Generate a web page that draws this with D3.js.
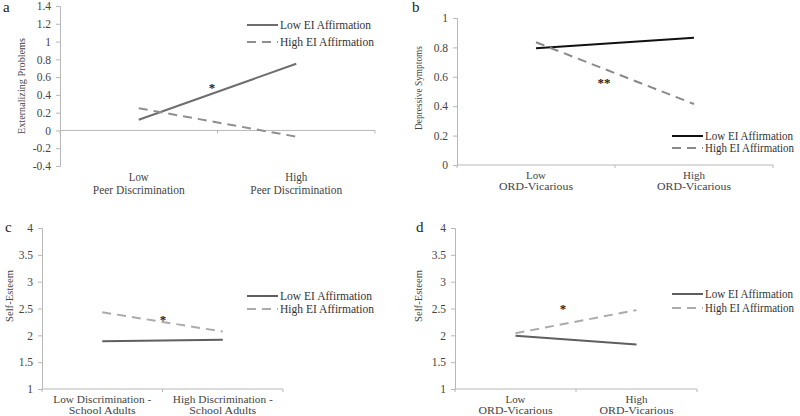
<!DOCTYPE html>
<html><head><meta charset="utf-8">
<script src="https://cdn.jsdelivr.net/npm/d3@7"></script>
<style>body{margin:0;background:#fff}svg{display:block}</style>
</head><body><svg id="c" width="800" height="416"></svg>
<script>
const FONT = '"Liberation Serif", "Tinos", "Times New Roman", serif';
const seriesNames = ["Low EI Affirmation", "High EI Affirmation"];
// Panel a
const catsA = ["Low|Peer Discrimination", "High|Peer Discrimination"];
const lowA = [0.12, 0.75];
const highA = [0.25, -0.07];
const ticksA = [-0.4, -0.2, 0, 0.2, 0.4, 0.6, 0.8, 1, 1.2, 1.4];
// Panel b
const catsB = ["Low|ORD-Vicarious", "High|ORD-Vicarious"];
const lowB = [0.795, 0.865];
const highB = [0.835, 0.415];
const ticksB = [0, 0.2, 0.4, 0.6, 0.8, 1];
// Panel c
const catsC = ["Low Discrimination -|School Adults", "High Discrimination -|School Adults"];
const lowC = [1.89, 1.92];
const highC = [2.43, 2.07];
const ticksC = [1, 1.5, 2, 2.5, 3, 3.5, 4];
// Panel d
const catsD = ["Low|ORD-Vicarious", "High|ORD-Vicarious"];
const lowD = [1.99, 1.83];
const highD = [2.04, 2.47];
const ticksD = [1, 1.5, 2, 2.5, 3, 3.5, 4];

const svg = d3.select("#c");
const labW = {"Low": 20, "High": 22, "Peer Discrimination": 92, "ORD-Vicarious": 74,
  "Low Discrimination -": 98, "High Discrimination -": 100, "School Adults": 67};

function txt(sel, size) {
  return sel.style("font-family", FONT).style("font-size", size + "px");
}

function panel(o) {
  const g = svg.append("g");
  const x = d3.scaleBand().domain(o.cats).range([o.x0, o.x1]);
  const y = d3.scaleLinear().domain([o.ticks[0], o.ticks[o.ticks.length-1]]).range([o.yb, o.yt]);
  const axisColor = "#b8b8b8";
  const ya = g.append("g").attr("transform", `translate(${o.x0},0)`)
    .call(d3.axisLeft(y).tickValues(o.ticks).tickSize(4).tickPadding(5).tickFormat(d => String(+d.toFixed(2))));
  ya.select(".domain").attr("stroke", axisColor);
  ya.selectAll(".tick line").attr("stroke", axisColor);
  txt(ya.selectAll("text"), 11.5).attr("fill", "#444");
  const xb = o.zeroLine ? y(0) : o.yb;
  g.append("line").attr("x1", o.x0).attr("x2", o.x1).attr("y1", xb).attr("y2", xb).attr("stroke", axisColor);
  [o.x0, (o.x0+o.x1)/2, o.x1].forEach(t => {
    g.append("line").attr("x1", t).attr("x2", t).attr("y1", xb).attr("y2", xb+3).attr("stroke", axisColor);
  });
  o.cats.forEach(c => {
    const parts = c.split("|");
    const cx = x(c) + x.bandwidth()/2;
    parts.forEach((p, i) => {
      txt(g.append("text"), o.labSize).attr("x", cx).attr("y", o.labY + i*o.labGap).attr("text-anchor", "middle")
        .attr("textLength", labW[p]).attr("lengthAdjust", "spacingAndGlyphs").attr("fill", "#444").text(p);
    });
  });
  const line = d3.line().x((d, i) => x(o.cats[i]) + x.bandwidth()/2).y(d => y(d));
  g.append("path").datum(o.low).attr("d", line).attr("fill", "none").attr("stroke", o.lowColor).attr("stroke-width", 2);
  g.append("path").datum(o.high).attr("d", line).attr("fill", "none").attr("stroke", o.highColor).attr("stroke-width", 2).attr("stroke-dasharray", "9,6");
  txt(g.append("text"), 13).attr("x", o.star[0]).attr("y", o.star[1]).attr("text-anchor", "middle")
    .attr("font-weight", "bold").attr("fill", "#222").text(o.starText);
  txt(g.append("text"), 11).attr("transform", `translate(${o.titleX},${o.titleY}) rotate(-90)`).attr("text-anchor", "middle")
    .attr("fill", "#444").attr("textLength", o.titleLen).attr("lengthAdjust", "spacingAndGlyphs").text(o.title);
  txt(g.append("text"), 15).attr("x", o.letter[0]).attr("y", o.letter[1]).attr("fill", "#222").text(o.letterText);
  const lg = g.append("g");
  lg.append("line").attr("x1", o.leg[0]).attr("x2", o.leg[0]+31).attr("y1", o.leg[1]).attr("y2", o.leg[1]).attr("stroke", o.lowColor).attr("stroke-width", 2);
  lg.append("line").attr("x1", o.leg[0]).attr("x2", o.leg[0]+31).attr("y1", o.leg[1]+o.legGap).attr("y2", o.leg[1]+o.legGap).attr("stroke", o.highColor).attr("stroke-width", 2).attr("stroke-dasharray", "9,6");
  seriesNames.forEach((s, i) => {
    txt(lg.append("text"), 12).attr("x", o.leg[0]+33).attr("y", o.leg[1]+i*o.legGap+4)
      .attr("textLength", o.legW[i]).attr("lengthAdjust", "spacingAndGlyphs").attr("fill", "#333").text(s);
  });
}

panel({cats: catsA, low: lowA, high: highA, ticks: ticksA, x0: 60, x1: 375, yt: 6, yb: 166, zeroLine: true,
  labY: 181, labGap: 13, labSize: 12, lowColor: "#6e6e6e", highColor: "#8f8f8f", star: [212, 92], starText: "*",
  title: "Externalizing Problems", titleX: 25, titleY: 86, titleLen: 96, letter: [3, 12], letterText: "a",
  leg: [247, 25], legGap: 17, legW: [91, 94]});
panel({cats: catsB, low: lowB, high: highB, ticks: ticksB, x0: 457, x1: 773, yt: 18, yb: 165, zeroLine: false,
  labY: 179, labGap: 11, labSize: 11, lowColor: "#111", highColor: "#8a8a8a", star: [604, 87], starText: "**",
  title: "Depressive Symptoms", titleX: 422, titleY: 88, titleLen: 84, letter: [412, 12], letterText: "b",
  leg: [672, 136], legGap: 12, legW: [88, 89]});
panel({cats: catsC, low: lowC, high: highC, ticks: ticksC, x0: 42, x1: 283, yt: 228, yb: 389, zeroLine: false,
  labY: 403, labGap: 11, labSize: 11, lowColor: "#5f5f5f", highColor: "#ababab", star: [163, 324], starText: "*",
  title: "Self-Esteem", titleX: 13, titleY: 296, titleLen: 52, letter: [5, 232], letterText: "c",
  leg: [247, 296], legGap: 13, legW: [92, 94]});
panel({cats: catsD, low: lowD, high: highD, ticks: ticksD, x0: 455, x1: 697, yt: 228, yb: 389, zeroLine: false,
  labY: 403, labGap: 11, labSize: 11, lowColor: "#5f5f5f", highColor: "#ababab", star: [563, 313], starText: "*",
  title: "Self-Esteem", titleX: 422, titleY: 296, titleLen: 52, letter: [416, 232], letterText: "d",
  leg: [672, 294], legGap: 14, legW: [88, 89]});
</script></body></html>
